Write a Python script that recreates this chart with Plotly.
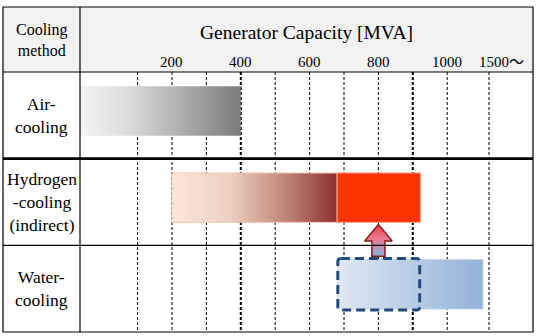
import plotly.graph_objects as go

W, H = 537, 336

# ---------------- data ----------------
row_labels = ["Air-<br>cooling", "Hydrogen<br>-cooling<br>(indirect)", "Water-<br>cooling"]
rows = [0, 1, 2]
tick_vals = [200, 400, 600, 800, 1000, 1121.5]
tick_text = ["200", "400", "600", "800", "1000", "1500〜"]
grid_vals = [100, 200, 300, 400, 500, 600, 700, 800, 900, 1000, 1121.5]
heavy_grid = [400, 900]
x_min, x_max = -67.4, 1249.4

air_start, air_end = x_min, 400
h2_grad_start, h2_grad_end = 200, 680
h2_solid_start, h2_solid_end = 680, 922
water_start, water_end = 682, 1104
water_dash_start, water_dash_end = 682, 920
arrow_x = 800

# ---------------- layout constants (pixels) ----------------
T_LEFT, T_RIGHT, T_TOP, T_BOTTOM = 3, 533, 7, 332
HEADER_BOTTOM, COL_DIV = 72, 80
SERIF = "Liberation Serif, Times New Roman, Noto Sans CJK JP, serif"

def px(x):
    return x / W

def py(y):
    return 1 - y / H

BAR_OFF, BAR_HALF = -0.05, 0.285


def rect(x0, x1, yc):
    return [x0, x1, x1, x0, x0], [yc - BAR_HALF, yc - BAR_HALF, yc + BAR_HALF, yc + BAR_HALF, yc - BAR_HALF]


fig = go.Figure()

# Air
xs, ys = rect(air_start, air_end, rows[0] + BAR_OFF)
fig.add_trace(go.Scatter(x=xs, y=ys, mode="lines", fill="toself", line=dict(width=0, color="rgba(0,0,0,0)"),
                         fillgradient=dict(type="horizontal", start=air_start, stop=air_end,
                                           colorscale=[[0, "#f4f4f4"], [0.3, "#dcdcdc"], [1, "#7b7b7b"]]),
                         hoverinfo="skip", showlegend=False))
# Hydrogen gradient
xs, ys = rect(h2_grad_start, h2_grad_end, rows[1] + BAR_OFF)
fig.add_trace(go.Scatter(x=xs, y=ys, mode="lines", fill="toself", line=dict(width=1, color="#f4c7b0"),
                         fillgradient=dict(type="horizontal", start=h2_grad_start, stop=h2_grad_end,
                                           colorscale=[[0, "#fbe7da"], [0.35, "#ecd0c2"], [0.7, "#be8276"], [1, "#8c3030"]]),
                         hoverinfo="skip", showlegend=False))
# Hydrogen solid
xs, ys = rect(h2_solid_start, h2_solid_end, rows[1] + BAR_OFF)
fig.add_trace(go.Scatter(x=xs, y=ys, mode="lines", fill="toself", line=dict(width=1, color="#f8a080"),
                         fillcolor="#ff3300", hoverinfo="skip", showlegend=False))
# Water
xs, ys = rect(water_start, water_end, rows[2] + BAR_OFF)
fig.add_trace(go.Scatter(x=xs, y=ys, mode="lines", fill="toself", line=dict(width=1, color="#c6d7ec"),
                         fillgradient=dict(type="horizontal", start=water_start, stop=water_end,
                                           colorscale=[[0, "#dfe8f4"], [1, "#93b1d7"]]),
                         hoverinfo="skip", showlegend=False))

# Arrow (up) between hydrogen and water rows
tip_y = rows[1] + BAR_OFF + BAR_HALF + 0.025
head_base = tip_y + 0.19
shaft_bottom = head_base + 0.175
hw, sw = 40, 19
ax_ = [arrow_x, arrow_x + hw, arrow_x + sw, arrow_x + sw, arrow_x - sw, arrow_x - sw, arrow_x - hw, arrow_x]
ay_ = [tip_y, head_base, head_base, shaft_bottom, shaft_bottom, head_base, head_base, tip_y]
fig.add_trace(go.Scatter(x=ax_, y=ay_, mode="lines", fill="toself", line=dict(width=1.5, color="#8c1c1c"),
                         fillgradient=dict(type="vertical", start=tip_y, stop=shaft_bottom,
                                           colorscale=[[0, "#f23c4c"], [0.45, "#e87c90"], [1, "#8aaee0"]]),
                         hoverinfo="skip", showlegend=False))

shapes = []
# header background
shapes.append(dict(type="rect", xref="paper", yref="paper", x0=px(T_LEFT), x1=px(T_RIGHT),
                   y0=py(HEADER_BOTTOM), y1=py(T_TOP), fillcolor="#f2f2f2", line=dict(width=0), layer="below"))
# dashed grid
for g in grid_vals:
    shapes.append(dict(type="line", xref="x", yref="y", x0=g, x1=g, y0=-0.5, y1=2.5,
                       line=dict(color="black", width=2 if g in heavy_grid else 1, dash="3px,2px"), layer="below"))
# table lines
line_c = "black"
shapes.append(dict(type="rect", xref="paper", yref="paper", x0=px(T_LEFT), x1=px(T_RIGHT),
                   y0=py(T_BOTTOM), y1=py(T_TOP), line=dict(color=line_c, width=1.2), layer="above"))
shapes.append(dict(type="line", xref="paper", yref="paper", x0=px(T_LEFT), x1=px(T_RIGHT),
                   y0=py(HEADER_BOTTOM), y1=py(HEADER_BOTTOM), line=dict(color=line_c, width=1.2), layer="above"))
shapes.append(dict(type="line", xref="paper", yref="paper", x0=px(COL_DIV), x1=px(COL_DIV),
                   y0=py(T_BOTTOM), y1=py(T_TOP), line=dict(color=line_c, width=1.2), layer="above"))
shapes.append(dict(type="line", xref="paper", yref="y", x0=px(T_LEFT), x1=px(T_RIGHT),
                   y0=0.5, y1=0.5, line=dict(color=line_c, width=2.6), layer="above"))
shapes.append(dict(type="line", xref="paper", yref="y", x0=px(T_LEFT), x1=px(T_RIGHT),
                   y0=1.5, y1=1.5, line=dict(color=line_c, width=1.2), layer="above"))

# dashed rounded box on water row
yc = rows[2] + BAR_OFF
y0b, y1b = yc - BAR_HALF - 0.012, yc + BAR_HALF + 0.012
x0b, x1b = water_dash_start, water_dash_end
rx, ry = 9, 0.04
path = (f"M{x0b+rx},{y0b} L{x1b-rx},{y0b} Q{x1b},{y0b} {x1b},{y0b+ry} L{x1b},{y1b-ry} "
        f"Q{x1b},{y1b} {x1b-rx},{y1b} L{x0b+rx},{y1b} Q{x0b},{y1b} {x0b},{y1b-ry} "
        f"L{x0b},{y0b+ry} Q{x0b},{y0b} {x0b+rx},{y0b} Z")
shapes.append(dict(type="path", xref="x", yref="y", path=path,
                   line=dict(color="#24497c", width=3, dash="9px,5px"), layer="above"))

annotations = []
annotations.append(dict(text="Generator Capacity [MVA]", xref="paper", yref="paper",
                        x=px((COL_DIV + T_RIGHT) / 2), y=py(32), showarrow=False,
                        font=dict(family=SERIF, size=19.5, color="black"), xanchor="center", yanchor="middle"))
annotations.append(dict(text="Cooling<br>method", xref="paper", yref="paper",
                        x=px((T_LEFT + COL_DIV) / 2), y=py(39.5), showarrow=False,
                        font=dict(family=SERIF, size=16, color="black"), xanchor="center", yanchor="middle"))
for i, (tv, tt) in enumerate(zip(tick_vals, tick_text)):
    last = i == len(tick_vals) - 1
    annotations.append(dict(text=tt, xref="x", yref="paper", x=tv, y=py(62), showarrow=False,
                            font=dict(family=SERIF, size=15, color="black"),
                            xanchor="left" if last else "center", xshift=-12 if last else 0,
                            yanchor="middle"))
for r, lab in zip(rows, row_labels):
    annotations.append(dict(text=lab, xref="paper", yref="y", x=px((T_LEFT + COL_DIV) / 2), y=r,
                            showarrow=False, font=dict(family=SERIF, size=17.5, color="black"),
                            xanchor="center", yanchor="middle"))

fig.update_layout(
    width=W, height=H, margin=dict(l=0, r=0, t=0, b=0),
    paper_bgcolor="white", plot_bgcolor="white",
    xaxis=dict(domain=[px(COL_DIV), px(T_RIGHT)], range=[x_min, x_max], showgrid=False, zeroline=False,
               showticklabels=False, ticks="", showline=False, fixedrange=True),
    yaxis=dict(domain=[py(T_BOTTOM), py(HEADER_BOTTOM)], range=[2.5, -0.5], showgrid=False, zeroline=False,
               showticklabels=False, ticks="", showline=False, fixedrange=True),
    shapes=shapes, annotations=annotations, showlegend=False,
)

fig.write_html("out.html", config={"displayModeBar": False})
